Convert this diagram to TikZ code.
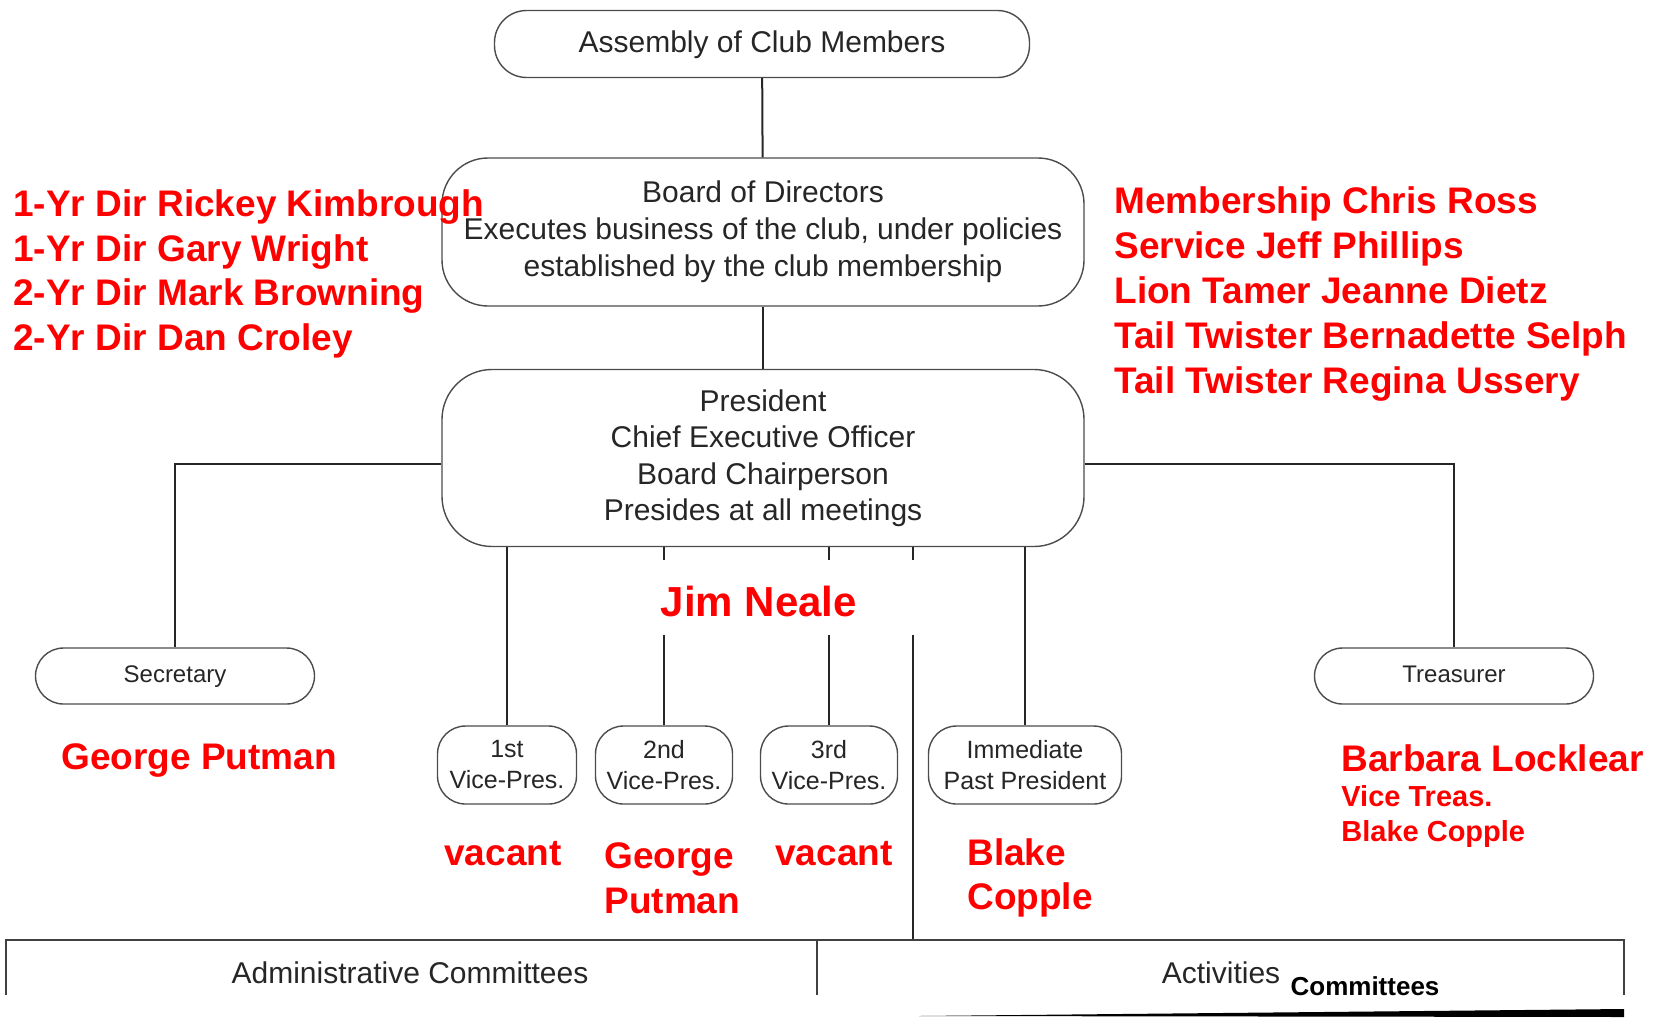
\documentclass[tikz,border=0pt]{standalone}
\usepackage{fontspec}
\setmainfont{Liberation Sans}

\begin{document}
\begin{tikzpicture}[x=0.5pt,y=-0.5pt,
    orgbox/.style={draw=black!70,line width=0.7pt,rounded corners=#1,align=center,
      inner sep=0pt,text=black!85,font=\fontsize{15}{18.5}\selectfont},
    orgbox/.default=16pt,
    smallbox/.style={orgbox=14pt,font=\fontsize{12.5}{15.5}\selectfont},
    link/.style={black!85,line width=1pt},
    officer/.style={text=red,align=left,inner sep=0pt,
      font=\bfseries\fontsize{18.5}{22.25}\selectfont}]
  \useasboundingbox (0,0) rectangle (1657,1017);

  % top of the chart
  \node[orgbox,text depth=2pt] (asm) at (762,44) [minimum width=267.5pt,minimum height=33.5pt]
    {Assembly of Club Members};
  \node[orgbox=23pt] (board) at (763,232) [minimum width=321pt,minimum height=74pt]
    {Board of Directors\\Executes business of the club, under policies\\
     established by the club membership};
  \node[orgbox=25pt,font=\fontsize{15}{18.25}\selectfont] (pres) at (763,458)
    [minimum width=321pt,minimum height=88.5pt]
    {President\\Chief Executive Officer\\Board Chairperson\\Presides at all meetings};
  \draw[link] (asm) -- (board);
  \draw[link] (board) -- (pres);

  % officers
  \node[orgbox=14pt,font=\fontsize{12}{14}\selectfont,text height=9pt,text depth=2.5pt] (sec)
    at (175,676) [minimum width=139.5pt,minimum height=28pt] {Secretary};
  \node[orgbox=14pt,font=\fontsize{12}{14}\selectfont,text height=9pt,text depth=2.5pt] (tre)
    at (1454,676) [minimum width=139.5pt,minimum height=28pt] {Treasurer};
  \draw[link] ([yshift=-3pt]pres.west) -| (sec);
  \draw[link] ([yshift=-3pt]pres.east) -| (tre);

  \node[smallbox,minimum width=69.5pt,minimum height=39pt] (vp1) at (507,765) {1st\\Vice-Pres.};
  \node[smallbox,minimum width=68.5pt,minimum height=39pt] (vp2) at (664,765) {2nd\\Vice-Pres.};
  \node[smallbox,minimum width=68.5pt,minimum height=39pt] (vp3) at (829,765) {3rd\\Vice-Pres.};
  \node[smallbox,minimum width=96.5pt,minimum height=39pt] (imm) at (1025,765)
    {Immediate\\Past President};

  \coordinate (gaptop) at (0,560);
  \coordinate (gapbot) at (0,635);
  \coordinate (actv) at (913,940);
  \draw[link] (pres.south -| vp1) -- (vp1);
  \draw[link] (pres.south -| imm) -- (imm);
  \foreach \n in {vp2,vp3,actv}
    \draw[link] (pres.south -| \n) -- (gaptop -| \n) (gapbot -| \n) -- (\n);

  % committees
  \draw[black!75,line width=1pt] (6,995) -- (6,940) -- (1624,940) -- (1624,995)
    (817,940) -- (817,995);
  \fill[black] (919,1016) -- (1624,1009) -- (1624,1017) -- cycle;
  \node[text=black!85,font=\fontsize{15}{18}\selectfont] (adm) at (410,973)
    {Administrative Committees};
  \node[text=black!85,font=\fontsize{15}{18}\selectfont] (act) at (1221,973) {Activities};
  \node[font=\bfseries\fontsize{13}{16}\selectfont] (actc) at (1365,986) {Committees};

  % names of the officers
  \node[officer,anchor=west] (dirs) at (13,274)
    {1-Yr Dir Rickey Kimbrough\\1-Yr Dir Gary Wright\\2-Yr Dir Mark Browning\\2-Yr Dir Dan Croley};
  \node[officer,anchor=west,font=\bfseries\fontsize{18.5}{22.4}\selectfont] (chairs) at (1114,294)
    {Membership Chris Ross\\Service Jeff Phillips\\Lion Tamer Jeanne Dietz\\
     Tail Twister Bernadette Selph\\Tail Twister Regina Ussery};
  \node[officer,font=\bfseries\fontsize{21}{25}\selectfont] (presname) at (759,601) {Jim Neale};
  \node[officer,anchor=west] (secname) at (61,760) {George Putman};
  \node[officer,anchor=west] (trename) at (1341,758) {Barbara Locklear};
  \node[officer,anchor=west,font=\bfseries\fontsize{14.5}{17.5}\selectfont] (vtrename) at (1341,816)
    {Vice Treas.\\Blake Copple};
  \node[officer] (vp1name) at (503,854) {vacant};
  \node[officer,anchor=west] (vp2name) at (604,878) {George\\Putman};
  \node[officer] (vp3name) at (834,854) {vacant};
  \node[officer,anchor=west] (immname) at (967,878) {Blake\\Copple};
\end{tikzpicture}
\end{document}
